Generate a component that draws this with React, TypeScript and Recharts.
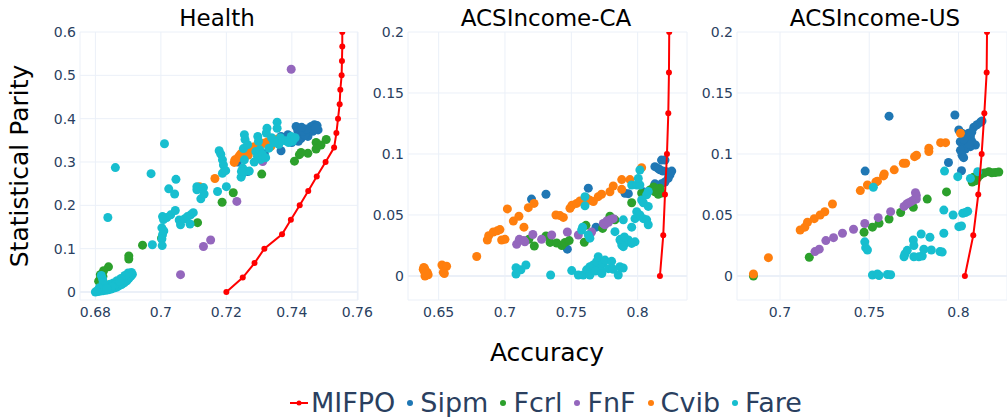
import { ScatterChart, Scatter, XAxis, YAxis, CartesianGrid, ReferenceLine } from 'recharts';

type P = [number, number];

const FONT = '"DejaVu Sans", Verdana, sans-serif';
const INK = '#2a3f5f';
const GRID = '#ebf0f8';

const COLORS = {
  MIFPO: '#ff0000',
  Sipm: '#1f77b4',
  Fcrl: '#2ca02c',
  FnF: '#9467bd',
  Cvib: '#ff7f0e',
  Fare: '#17becf',
};

const LEGEND_ORDER = ['MIFPO', 'Sipm', 'Fcrl', 'FnF', 'Cvib', 'Fare'];

// ---------- Health ----------
const HEALTH_MIFPO: P[] = [
  [0.72, 0], [0.725, 0.0333], [0.7286, 0.0667], [0.7316, 0.1], [0.737, 0.1333], [0.7397, 0.1667],
  [0.7424, 0.2], [0.745, 0.2333], [0.7476, 0.2667], [0.7503, 0.3], [0.7529, 0.3333], [0.7536, 0.3667],
  [0.7541, 0.4], [0.7546, 0.4333], [0.7548, 0.4667], [0.7552, 0.5], [0.7553, 0.5333], [0.7554, 0.5667],
  [0.7554, 0.6],
];
const HEALTH_SIPM: P[] = [
  [0.7234, 0.3], [0.7265, 0.278], [0.7316, 0.319], [0.7367, 0.326], [0.7372, 0.352], [0.7367, 0.359],
  [0.7388, 0.363], [0.7413, 0.382], [0.7418, 0.372], [0.7423, 0.361], [0.7428, 0.354], [0.7413, 0.354],
  [0.7449, 0.366], [0.7454, 0.374], [0.7459, 0.382], [0.7469, 0.386], [0.7477, 0.384], [0.748, 0.374],
  [0.7464, 0.371], [0.7449, 0.359], [0.744, 0.363], [0.7434, 0.371], [0.74, 0.345], [0.742, 0.348],
  [0.7395, 0.352], [0.7472, 0.378], [0.7445, 0.376], [0.743, 0.38], [0.738, 0.356], [0.735, 0.35],
];
const HEALTH_FCRL: P[] = [
  [0.7474, 0.345], [0.7489, 0.339], [0.7505, 0.352], [0.7474, 0.33], [0.7449, 0.32], [0.7423, 0.317],
  [0.7428, 0.322], [0.7408, 0.302], [0.7308, 0.272], [0.7221, 0.229], [0.7187, 0.207], [0.7112, 0.16],
  [0.7002, 0.124], [0.6944, 0.108], [0.6902, 0.083], [0.6902, 0.076], [0.684, 0.058], [0.6825, 0.049],
  [0.6815, 0.04], [0.682, 0.028], [0.6815, 0.03], [0.6823, 0.036], [0.6826, 0.02], [0.681, 0.025],
];
const HEALTH_FNF: P[] = [
  [0.7398, 0.514], [0.7232, 0.209], [0.7152, 0.12], [0.713, 0.105], [0.706, 0.04], [0.7311, 0.301],
];
const HEALTH_CVIB: P[] = [
  [0.7118, 0.243], [0.7165, 0.262], [0.7195, 0.28], [0.7224, 0.299], [0.7226, 0.305], [0.7236, 0.31],
  [0.7241, 0.316], [0.7246, 0.32], [0.725, 0.322], [0.7267, 0.316], [0.7275, 0.328], [0.728, 0.33],
  [0.729, 0.33], [0.7285, 0.335], [0.7311, 0.343], [0.7316, 0.343], [0.7326, 0.347], [0.7336, 0.336],
  [0.7341, 0.351], [0.7357, 0.353], [0.724, 0.313], [0.73, 0.338],
];
const HEALTH_FARE: P[] = [
  [0.68, 0], [0.6808, 0.001], [0.6816, 0.002], [0.6824, 0.003], [0.6832, 0.004], [0.684, 0.005],
  [0.6848, 0.007], [0.6856, 0.009], [0.6864, 0.011], [0.6872, 0.014], [0.688, 0.017], [0.6888, 0.021],
  [0.6896, 0.026], [0.6902, 0.031], [0.6908, 0.036], [0.6913, 0.041], [0.691, 0.045], [0.69, 0.044],
  [0.689, 0.038], [0.6878, 0.031], [0.6866, 0.026], [0.6855, 0.021], [0.6845, 0.018], [0.683, 0.015],
  [0.6822, 0.03], [0.6818, 0.038], [0.6824, 0.022], [0.6812, 0.01], [0.686, 0.017], [0.6875, 0.024],
  [0.685, 0.012], [0.6836, 0.008], [0.6804, 0.002],
  [0.6861, 0.287], [0.6838, 0.172], [0.7011, 0.342], [0.697, 0.273], [0.7046, 0.26], [0.7024, 0.238],
  [0.7042, 0.226], [0.7005, 0.174], [0.7018, 0.172], [0.7008, 0.167], [0.703, 0.178], [0.7044, 0.188],
  [0.7056, 0.166], [0.706, 0.155], [0.7073, 0.169], [0.7081, 0.174], [0.7091, 0.178], [0.7099, 0.183],
  [0.7089, 0.157], [0.7003, 0.148], [0.7009, 0.141], [0.7005, 0.132], [0.7003, 0.122], [0.6974, 0.109],
  [0.7004, 0.107], [0.711, 0.243], [0.711, 0.236], [0.713, 0.241], [0.7122, 0.215], [0.7132, 0.226],
  [0.7173, 0.232], [0.72, 0.243],
  [0.7178, 0.326], [0.7183, 0.318], [0.7188, 0.305], [0.7191, 0.293], [0.7188, 0.274], [0.7198, 0.28],
  [0.725, 0.274], [0.7245, 0.265], [0.7255, 0.305], [0.727, 0.279], [0.725, 0.286], [0.7246, 0.278],
  [0.7255, 0.363], [0.7257, 0.352], [0.7296, 0.359], [0.7298, 0.348], [0.729, 0.324], [0.7295, 0.313],
  [0.7302, 0.328], [0.7305, 0.306], [0.7324, 0.378], [0.7322, 0.367], [0.7338, 0.356], [0.7355, 0.392],
  [0.7355, 0.378], [0.7365, 0.356], [0.738, 0.349], [0.7398, 0.359], [0.7402, 0.348], [0.736, 0.341],
  [0.7252, 0.331], [0.731, 0.318], [0.733, 0.332], [0.7285, 0.3], [0.7345, 0.345], [0.739, 0.345],
  [0.741, 0.356], [0.7265, 0.34], [0.732, 0.31],
];

// ---------- ACSIncome-CA ----------
const CA_MIFPO: P[] = [
  [0.8168, 0], [0.8193, 0.0333], [0.8206, 0.0667], [0.8221, 0.1], [0.8231, 0.1333], [0.8236, 0.1667],
  [0.8238, 0.2],
];
const CA_SIPM: P[] = [
  [0.72, 0.063], [0.7309, 0.067], [0.747, 0.022], [0.7628, 0.072], [0.7686, 0.04], [0.813, 0.0896],
  [0.818, 0.095], [0.8206, 0.095], [0.8168, 0.087], [0.819, 0.086], [0.8219, 0.0855], [0.8244, 0.083],
  [0.8257, 0.086], [0.8143, 0.0746], [0.818, 0.0755], [0.8206, 0.077], [0.813, 0.0755], [0.7905, 0.0678],
  [0.793, 0.0675], [0.8042, 0.069], [0.8155, 0.088], [0.823, 0.08],
];
const CA_FCRL: P[] = [
  [0.718, 0.03], [0.7221, 0.0246], [0.7309, 0.0328], [0.734, 0.0275], [0.739, 0.027], [0.7428, 0.025],
  [0.7453, 0.0275], [0.7484, 0.029], [0.7598, 0.0276], [0.761, 0.0415], [0.7736, 0.039], [0.7791, 0.049],
  [0.7829, 0.046], [0.7955, 0.06], [0.803, 0.068], [0.8093, 0.0705], [0.813, 0.069], [0.8168, 0.072],
  [0.818, 0.068], [0.8155, 0.067], [0.812, 0.073], [0.8145, 0.071],
];
const CA_FNF: P[] = [
  [0.7088, 0.026], [0.7108, 0.03], [0.7142, 0.029], [0.715, 0.028], [0.721, 0.034], [0.7276, 0.03],
  [0.7352, 0.0336], [0.747, 0.036], [0.7553, 0.0336], [0.7653, 0.036], [0.7741, 0.043], [0.7766, 0.045],
  [0.7791, 0.046], [0.7816, 0.047], [0.7753, 0.042], [0.778, 0.044],
];
const CA_CVIB: P[] = [
  [0.6384, 0.0055], [0.6388, 0.007], [0.6391, 0.004], [0.6395, 0.006], [0.6397, 0], [0.6406, 0.003],
  [0.6414, 0.003], [0.6421, 0.001], [0.64, 0.002], [0.6525, 0.009], [0.656, 0.008], [0.6535, 0.003],
  [0.6543, 0.002], [0.6787, 0.016], [0.6867, 0.0295], [0.6877, 0.033], [0.6912, 0.036], [0.6942, 0.037],
  [0.6962, 0.038], [0.6975, 0.0295], [0.7, 0.03], [0.7018, 0.055], [0.7063, 0.045], [0.7105, 0.049],
  [0.7143, 0.04], [0.7176, 0.056], [0.7219, 0.0595], [0.7384, 0.05], [0.7415, 0.0495], [0.744, 0.048],
  [0.749, 0.0555], [0.7505, 0.058], [0.754, 0.0595], [0.7565, 0.0615], [0.7616, 0.0637], [0.7641, 0.062],
  [0.7666, 0.061], [0.7703, 0.065], [0.7728, 0.067], [0.7791, 0.069], [0.7816, 0.0738], [0.788, 0.079],
  [0.7942, 0.079], [0.803, 0.0888], [0.788, 0.071],
];
const CA_FARE: P[] = [
  [0.7083, 0.0068], [0.712, 0.005], [0.7158, 0.009], [0.7083, 0.0016], [0.7344, 0.0008], [0.7503, 0.0044],
  [0.7553, 0.0008], [0.759, 0.0008], [0.7615, 0.005], [0.764, 0.0076], [0.7665, 0.009], [0.769, 0.0117],
  [0.7703, 0.0158], [0.7715, 0.006], [0.774, 0.0106], [0.7754, 0.013], [0.7779, 0.006], [0.7804, 0.012],
  [0.7816, 0.0055], [0.7854, 0.0008], [0.7866, 0.0076], [0.7891, 0.0065], [0.764, 0.0008], [0.768, 0.004],
  [0.773, 0.002],
  [0.7578, 0.0377], [0.7628, 0.0336], [0.764, 0.031], [0.7585, 0.04], [0.7603, 0.065], [0.7603, 0.0575],
  [0.7829, 0.0363], [0.7867, 0.0295], [0.788, 0.0253], [0.7905, 0.027], [0.793, 0.0295], [0.7955, 0.0267],
  [0.7892, 0.024], [0.798, 0.028], [0.7892, 0.046], [0.7955, 0.04], [0.798, 0.047], [0.7993, 0.0527],
  [0.8017, 0.05], [0.8043, 0.047], [0.8068, 0.046], [0.808, 0.042], [0.803, 0.0623], [0.8068, 0.0665],
  [0.808, 0.0693], [0.7955, 0.0746], [0.7993, 0.0746], [0.8017, 0.0746], [0.8005, 0.08], [0.8017, 0.0869],
  [0.8043, 0.06], [0.808, 0.057], [0.787, 0.03], [0.79, 0.032],
];

// ---------- ACSIncome-US ----------
const US_MIFPO: P[] = [
  [0.8036, 0], [0.8083, 0.0333], [0.8111, 0.0667], [0.813, 0.1], [0.8145, 0.1333], [0.8158, 0.1667],
  [0.816, 0.2],
];
const US_SIPM: P[] = [
  [0.7611, 0.131], [0.7477, 0.086], [0.798, 0.132], [0.8002, 0.1197], [0.802, 0.117], [0.8029, 0.114],
  [0.801, 0.11], [0.8039, 0.109], [0.8048, 0.115], [0.8057, 0.117], [0.8067, 0.114], [0.8076, 0.11],
  [0.8095, 0.1074], [0.8067, 0.106], [0.8039, 0.104], [0.8011, 0.103], [0.802, 0.099], [0.8029, 0.097],
  [0.8086, 0.122], [0.8104, 0.124], [0.8123, 0.126], [0.8132, 0.127], [0.7944, 0.093], [0.8017, 0.0863],
  [0.805, 0.111], [0.806, 0.108], [0.803, 0.112], [0.8075, 0.118],
];
const US_FCRL: P[] = [
  [0.6851, 0], [0.7164, 0.0153], [0.7471, 0.0358], [0.7518, 0.04], [0.7555, 0.0432], [0.7611, 0.0467],
  [0.7676, 0.052], [0.7747, 0.0563], [0.7825, 0.063], [0.7933, 0.0689], [0.8077, 0.077], [0.8095, 0.078],
  [0.8105, 0.08], [0.8123, 0.083], [0.8145, 0.0845], [0.817, 0.0855], [0.8187, 0.0846], [0.8206, 0.0848],
  [0.8226, 0.0852], [0.8085, 0.081], [0.8115, 0.082],
];
const US_FNF: P[] = [
  [0.7196, 0.02], [0.722, 0.022], [0.7257, 0.029], [0.73, 0.0314], [0.735, 0.035], [0.7412, 0.0383],
  [0.7475, 0.043], [0.755, 0.0478], [0.762, 0.0527], [0.7695, 0.057], [0.771, 0.059], [0.7722, 0.06],
  [0.7735, 0.061], [0.7749, 0.0623], [0.7764, 0.063], [0.7764, 0.066], [0.7759, 0.0683],
];
const US_CVIB: P[] = [
  [0.6851, 0.0016], [0.6935, 0.015], [0.7113, 0.0377], [0.7139, 0.04], [0.7154, 0.044], [0.7192, 0.047],
  [0.7225, 0.05], [0.7251, 0.0526], [0.7294, 0.059], [0.745, 0.07], [0.749, 0.0746], [0.7537, 0.077],
  [0.7546, 0.0777], [0.758, 0.082], [0.7584, 0.0836], [0.764, 0.087], [0.7691, 0.0924], [0.7704, 0.0924],
  [0.7754, 0.0978], [0.7765, 0.099], [0.7834, 0.102], [0.7834, 0.1047], [0.79, 0.1093], [0.7928, 0.1093],
  [0.8011, 0.117],
];
const US_FARE: P[] = [
  [0.7518, 0.0008], [0.7546, 0.0016], [0.7555, 0.0004], [0.7602, 0.0012], [0.762, 0.001], [0.7523, 0.0727],
  [0.7475, 0.028], [0.748, 0.0232], [0.749, 0.0213], [0.7695, 0.0158], [0.77, 0.018], [0.7713, 0.021],
  [0.7747, 0.0295], [0.775, 0.025], [0.775, 0.0158], [0.7778, 0.0158], [0.7797, 0.0164], [0.7791, 0.0344],
  [0.7806, 0.0219], [0.784, 0.0317], [0.7848, 0.0213], [0.7896, 0.02], [0.7909, 0.0196], [0.7918, 0.035],
  [0.7922, 0.086], [0.7918, 0.054], [0.797, 0.05], [0.7996, 0.0814], [0.8002, 0.0404], [0.8017, 0.041],
  [0.8024, 0.0514], [0.8039, 0.052], [0.8052, 0.053], [0.8067, 0.08], [0.8108, 0.0855],
];

const HEALTH_X_TICKS = [0.68, 0.7, 0.72, 0.74, 0.76];
const HEALTH_Y_TICKS = [0, 0.1, 0.2, 0.3, 0.4, 0.5, 0.6];
const CA_X_TICKS = [0.65, 0.7, 0.75, 0.8];
const US_X_TICKS = [0.7, 0.75, 0.8];
const ACS_Y_TICKS = [0, 0.05, 0.1, 0.15, 0.2];

const toPts = (a: P[]) => a.map(([x, y]) => ({ x, y }));

const PANELS = [
  {
    title: 'Health', titleX: 217, left: 80, width: 278,
    xDomain: [0.6753, 0.7602], yDomain: [-0.0185, 0.6],
    xTicks: HEALTH_X_TICKS, yTicks: HEALTH_Y_TICKS,
    series: { MIFPO: HEALTH_MIFPO, Sipm: HEALTH_SIPM, Fcrl: HEALTH_FCRL, FnF: HEALTH_FNF, Cvib: HEALTH_CVIB, Fare: HEALTH_FARE },
  },
  {
    title: 'ACSIncome-CA', titleX: 546, left: 408, width: 279,
    xDomain: [0.6269, 0.8372], yDomain: [-0.0197, 0.2],
    xTicks: CA_X_TICKS, yTicks: ACS_Y_TICKS,
    series: { MIFPO: CA_MIFPO, Sipm: CA_SIPM, Fcrl: CA_FCRL, FnF: CA_FNF, Cvib: CA_CVIB, Fare: CA_FARE },
  },
  {
    title: 'ACSIncome-US', titleX: 875, left: 737, width: 270,
    xDomain: [0.6759, 0.8272], yDomain: [-0.0197, 0.2],
    xTicks: US_X_TICKS, yTicks: ACS_Y_TICKS,
    series: { MIFPO: US_MIFPO, Sipm: US_SIPM, Fcrl: US_FCRL, FnF: US_FNF, Cvib: US_CVIB, Fare: US_FARE },
  },
];

const AXIS_W = 60;
const PAD_R = 24; // room for the last x tick label
const TOP = 32;
const BOTTOM = 300;
const CHART_H = 340;

const fmt = (v: number) => String(Number(v.toFixed(3)));

const dot = (color: string, r: number) => (props: any) =>
  <circle cx={props.cx} cy={props.cy} r={r} fill={color} />;

function Panel({ p }: { p: (typeof PANELS)[number] }) {
  const tick = { fontFamily: FONT, fontSize: 14, fill: INK };
  const s = p.series as Record<string, P[]>;
  return (
    <div style={{ position: 'absolute', left: p.left - AXIS_W, top: 0 }}>
      <ScatterChart
        width={AXIS_W + p.width + PAD_R}
        height={CHART_H}
        margin={{ top: TOP, right: PAD_R, bottom: 0, left: 0 }}
      >
        <CartesianGrid stroke={GRID} strokeWidth={1} />
        <XAxis
          type="number" dataKey="x" domain={p.xDomain} ticks={p.xTicks} allowDataOverflow
          height={CHART_H - BOTTOM} axisLine={false} tickLine={false} tickSize={5} tickMargin={2}
          tick={tick} tickFormatter={fmt} interval={0}
        />
        <YAxis
          type="number" dataKey="y" domain={p.yDomain} ticks={p.yTicks} allowDataOverflow
          width={AXIS_W} axisLine={false} tickLine={false} tickSize={4} tickMargin={0}
          tick={tick} tickFormatter={fmt} interval={0}
        />
        <ReferenceLine y={0} stroke={GRID} strokeWidth={2} />
        {['Sipm', 'Fcrl', 'FnF', 'Cvib', 'Fare'].map((k) => (
          <Scatter
            key={k} name={k} data={toPts(s[k])}
            shape={dot((COLORS as any)[k], 4.5)} isAnimationActive={false}
          />
        ))}
        <Scatter
          name="MIFPO" data={toPts(s.MIFPO)} line={{ stroke: COLORS.MIFPO, strokeWidth: 2 }}
          shape={dot(COLORS.MIFPO, 3)} isAnimationActive={false}
        />
      </ScatterChart>
    </div>
  );
}

function Legend() {
  return (
    <div
      style={{
        position: 'absolute', left: 289, top: 388, height: 30, display: 'flex', alignItems: 'center',
        fontFamily: FONT, fontSize: 27, lineHeight: '30px', color: INK, whiteSpace: 'nowrap',
      }}
    >
      {LEGEND_ORDER.map((k, i) => (
        <div key={k} style={{ display: 'flex', alignItems: 'center', marginLeft: i === 0 ? 0 : 9 }}>
          {k === 'MIFPO' ? (
            <svg width={20} height={12} style={{ marginRight: 2 }}>
              <line x1={1} y1={6} x2={19} y2={6} stroke={COLORS.MIFPO} strokeWidth={2} />
              <circle cx={10} cy={6} r={2.5} fill={COLORS.MIFPO} />
            </svg>
          ) : (
            <svg width={12} height={12} style={{ marginRight: 4 }}>
              <circle cx={6} cy={6} r={3} fill={(COLORS as any)[k]} />
            </svg>
          )}
          <span>{k}</span>
        </div>
      ))}
    </div>
  );
}

export default function App() {
  return (
    <div style={{ position: 'absolute', left: 0, top: 0, width: 1007, height: 417, background: '#fff', overflow: 'hidden' }}>
      {PANELS.map((p) => <Panel key={p.title} p={p} />)}
      <svg width={1007} height={417} style={{ position: 'absolute', left: 0, top: 0, pointerEvents: 'none' }}>
        {PANELS.map((p) => (
          <text key={p.title} x={p.titleX} y={26} textAnchor="middle" fontFamily={FONT} fontSize={23} fill="#000">
            {p.title}
          </text>
        ))}
        <text x={547} y={361} textAnchor="middle" fontFamily={FONT} fontSize={25} fill="#000">Accuracy</text>
        <text
          transform="translate(28,166) rotate(-90)" textAnchor="middle"
          fontFamily={FONT} fontSize={25} fill="#000"
        >
          Statistical Parity
        </text>
      </svg>
      <Legend />
    </div>
  );
}
